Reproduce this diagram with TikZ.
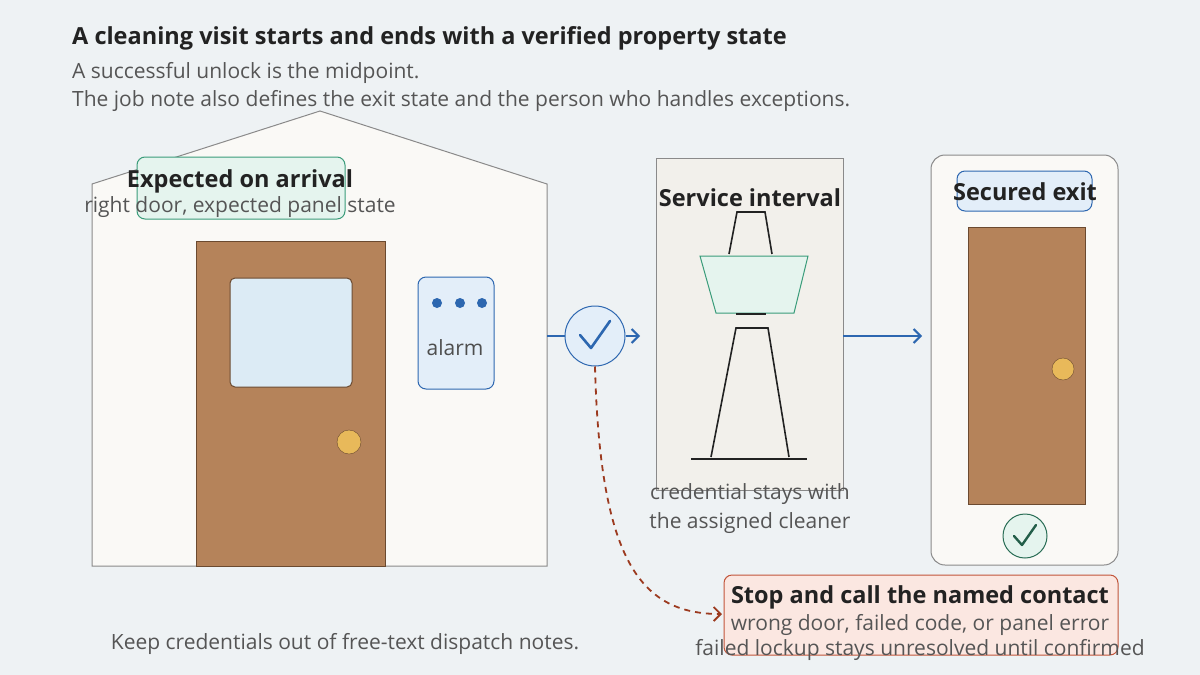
\documentclass[tikz,border=0pt]{standalone}
\usepackage{fontspec}
\setmainfont{Open Sans}
\usetikzlibrary{arrows.meta}
\definecolor{bg}{HTML}{EEF2F4}
\definecolor{ink}{HTML}{222222}
\definecolor{sub}{HTML}{555555}
\definecolor{edge}{HTML}{8A8A8A}
\definecolor{paper}{HTML}{FAF9F6}
\definecolor{wood}{HTML}{B5835A}
\definecolor{woodedge}{HTML}{6B4A30}
\definecolor{glass}{HTML}{DCEBF5}
\definecolor{bluef}{HTML}{E3EEF9}
\definecolor{blues}{HTML}{2D67B0}
\definecolor{greenf}{HTML}{E5F4EE}
\definecolor{greens}{HTML}{3A9C7A}
\definecolor{knob}{HTML}{E8B95A}
\definecolor{redf}{HTML}{FBE7E1}
\definecolor{reds}{HTML}{C2553A}
\definecolor{redl}{HTML}{9C3A1F}
\definecolor{serv}{HTML}{F2F0EB}
\begin{document}
\begin{tikzpicture}[x=1pt,y=-1pt,
  t/.style={font=\fontsize{23.5}{27}\selectfont\bfseries,text=ink,inner sep=0},
  s/.style={font=\fontsize{21}{25}\selectfont,text=sub,inner sep=0},
  arr/.style={draw=blues,line width=2pt,-{Straight Barb[length=7pt,width=14pt]}},
  box/.style={rounded corners=8pt,line width=1pt}]
\useasboundingbox (0,0) rectangle (1200,675);
\fill[bg] (0,0) rectangle (1200,675);
\node[t,anchor=west] (title) at (72,38) {A cleaning visit starts and ends with a verified property state};
\node[s,anchor=west] (s1) at (72,73) {A successful unlock is the midpoint.};
\node[s,anchor=west] (s2) at (72,101) {The job note also defines the exit state and the person who handles exceptions.};
% house
\draw[edge,fill=paper,line width=1pt] (92,566) -- (92,184) -- (320,111) -- (547,184) -- (547,566) -- cycle;
\draw[box,draw=greens,fill=greenf] (137,157) rectangle (345,219);
\node[t] (exp) at (240,181) {Expected on arrival};
\node[s] (expd) at (240,207) {right door, expected panel state};
\draw[woodedge,fill=wood,line width=1pt] (196,241) rectangle (385,566);
\draw[woodedge,fill=glass,rounded corners=5pt,line width=1pt] (230,278) rectangle (352,387);
\draw[woodedge,fill=knob] (349,442) circle (12);
\draw[box,draw=blues,fill=bluef] (418,277) rectangle (494,389);
\foreach \x in {437,460,482} \fill[blues] (\x,303) circle (5);
\node[s,text=ink!80] (alarm) at (455,348) {alarm};
% check
\coordinate (hs) at (547,336);
\node[circle,draw=blues,fill=bluef,minimum size=60pt,line width=1pt,inner sep=0] (chk) at (595,336) {};
\draw[blues,line width=2.6pt,line cap=round,line join=round] (580,335) -- (591,348) -- (610,321);
\draw[arr,-] (hs) -- (chk.west);
\coordinate (a1) at (640,336);
\draw[arr] (chk.east) -- (a1);
% service
\draw[edge,fill=serv,line width=1pt] (656,158) rectangle (843,490);
\node[t] (srv) at (750,198) {Service interval};
\draw[ink,line width=1.6pt] (729,254) -- (737,212) -- (765,212) -- (772,254);
\draw[greens,fill=greenf,line width=1pt] (700,256) -- (808,256) -- (794,313) -- (716,313) -- cycle;
\draw[ink,line width=1.6pt] (736,314) -- (766,314);
\draw[ink,line width=1.6pt] (711,457) -- (736,328) -- (768,328) -- (789,457);
\draw[ink,line width=1.6pt] (691,459) -- (807,459);
\node[s] (c1) at (750,494) {credential stays with};
\node[s] (c2) at (750,523) {the assigned cleaner};
\coordinate (sv) at (843,336); \coordinate (ex) at (922,336);
\draw[arr] (sv) -- (ex);
% exit
\draw[box,draw=edge,fill=paper,rounded corners=14pt] (931,155) rectangle (1118,565);
\draw[box,draw=blues,fill=bluef] (957,171) rectangle (1092,211);
\node[t] (sec) at (1025,192) {Secured exit};
\draw[woodedge,fill=wood,line width=1pt] (968,227) rectangle (1085,504);
\draw[woodedge,fill=knob] (1063,369) circle (11);
\node[circle,draw=greens!70!black,fill=greenf,minimum size=44pt,line width=1pt,inner sep=0] (ok) at (1025,536) {};
\draw[greens!60!black,line width=2.4pt,line cap=round,line join=round] (1014,536) -- (1022,545) -- (1036,525);
% exception
\draw[box,draw=reds,fill=redf] (724,575) rectangle (1118,655);
\coordinate (rb) at (722,614);
\node[t] (stop) at (920,597) {Stop and call the named contact};
\node[s] (w1) at (920,625) {wrong door, failed code, or panel error};
\node[s] (w2) at (920,650) {failed lockup stays unresolved until confirmed};
\draw[redl,line width=1.8pt,dash pattern=on 6pt off 5pt,-{Straight Barb[length=7pt,width=14pt]}] (chk.south) .. controls (600,560) and (640,614) .. (rb);
\node[s] (foot) at (345,644) {Keep credentials out of free-text dispatch notes.};
\end{tikzpicture}
\end{document}
